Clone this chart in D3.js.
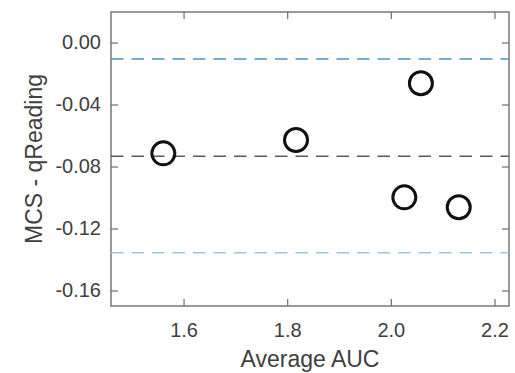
<!DOCTYPE html>
<html>
<head>
<meta charset="utf-8">
<script src="https://cdn.jsdelivr.net/npm/d3@7/dist/d3.min.js"></script>
<style>
  html, body { margin: 0; padding: 0; background: #fff; }
  svg { display: block; font-family: Arial, "Liberation Sans", Helvetica, sans-serif; }
</style>
</head>
<body>
<svg id="chart" width="515" height="373"></svg>
<script>
// Bland–Altman style comparison: average AUC vs. difference (MCS - qReading)
const averageAUC = [1.561, 1.817, 2.058, 2.026, 2.131];
const difference = [-0.0715, -0.0629, -0.0263, -0.0999, -0.1063];

// Reference lines: upper limit of agreement, mean difference, lower limit
const limitValues = [-0.0106, -0.0734, -0.1357];
const limitColors = ["#4a94c8", "#5a5a5a", "#9fc6e2"];

const xTicks = [1.6, 1.8, 2.0, 2.2];
const yTicks = [0.00, -0.04, -0.08, -0.12, -0.16];

const xTitle = "Average AUC";
const yTitle = "MCS - qReading";

const svg = d3.select("#chart");
const m = { left: 111, top: 12, right: 6, bottom: 67 };
const W = 515, H = 373;
const plotW = W - m.left - m.right;
const plotH = H - m.top - m.bottom;

const x = d3.scaleLinear().domain([1.46, 2.228]).range([0, plotW]);
const y = d3.scaleLinear().domain([-0.17, 0.0197]).range([plotH, 0]);

const g = svg.append("g").attr("transform", `translate(${m.left},${m.top})`);

const axisColor = "#6e6e6e";
const textColor = "#404040";
const tickLen = 7;

// Plain hyphen-minus for negative tick labels
const yFmt = d => d3.format(".2f")(d).replace("\u2212", "-");

// Bottom and left axes with inward ticks
const xAxis = g.append("g").attr("transform", `translate(0,${plotH})`)
  .call(d3.axisBottom(x).tickValues(xTicks).tickFormat(d3.format(".1f"))
    .tickSizeInner(-tickLen).tickSizeOuter(0).tickPadding(17));
const yAxis = g.append("g")
  .call(d3.axisLeft(y).tickValues(yTicks).tickFormat(yFmt)
    .tickSizeInner(-tickLen).tickSizeOuter(0).tickPadding(10));

// Mirrored top and right ticks
const xTop = g.append("g")
  .call(d3.axisTop(x).tickValues(xTicks).tickFormat("")
    .tickSizeInner(-tickLen).tickSizeOuter(0));
const yRight = g.append("g").attr("transform", `translate(${plotW},0)`)
  .call(d3.axisRight(y).tickValues(yTicks).tickFormat("")
    .tickSizeInner(-tickLen).tickSizeOuter(0));

[xAxis, yAxis, xTop, yRight].forEach(a => {
  a.select(".domain").remove();
  a.selectAll(".tick line").attr("stroke", axisColor).attr("stroke-width", 1.2);
  a.selectAll(".tick text").attr("fill", textColor).attr("font-size", 20);
});

// Plot frame
g.append("rect")
  .attr("x", 0).attr("y", 0).attr("width", plotW).attr("height", plotH)
  .attr("fill", "none").attr("stroke", axisColor).attr("stroke-width", 1.4);

// Dashed horizontal reference lines
g.selectAll("line.ref").data(limitValues).join("line")
  .attr("class", "ref")
  .attr("x1", 0).attr("x2", plotW)
  .attr("y1", d => y(d)).attr("y2", d => y(d))
  .attr("stroke", (d, i) => limitColors[i])
  .attr("stroke-width", 1.5)
  .attr("stroke-dasharray", "12.5,8");

// Data points as open circles
g.selectAll("circle.pt").data(averageAUC).join("circle")
  .attr("class", "pt")
  .attr("cx", d => x(d))
  .attr("cy", (d, i) => y(difference[i]))
  .attr("r", 11.5)
  .attr("fill", "none")
  .attr("stroke", "#111")
  .attr("stroke-width", 3);

// Axis titles
svg.append("text")
  .attr("x", m.left + plotW / 2).attr("y", 367)
  .attr("text-anchor", "middle")
  .attr("fill", textColor).attr("font-size", 23)
  .text(xTitle);

svg.append("text")
  .attr("transform", `translate(42,${m.top + plotH / 2}) rotate(-90)`)
  .attr("text-anchor", "middle")
  .attr("fill", textColor).attr("font-size", 23)
  .text(yTitle);
</script>
</body>
</html>
